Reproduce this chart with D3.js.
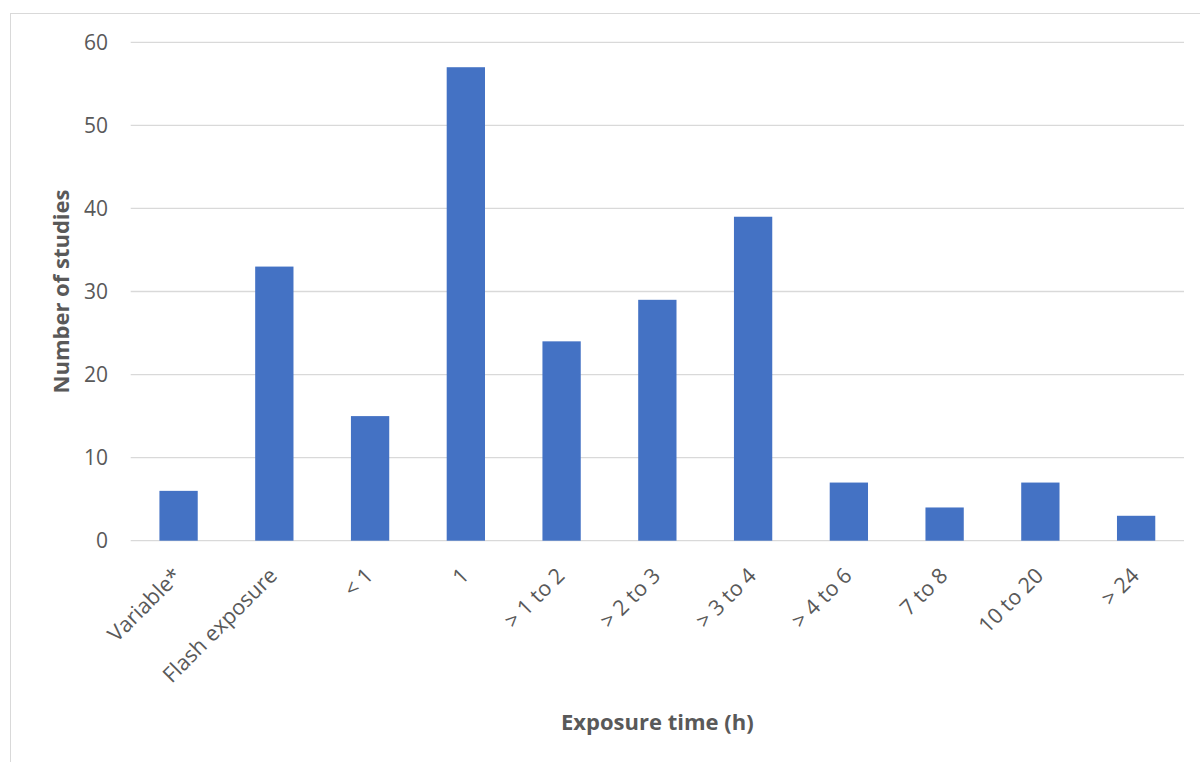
<!DOCTYPE html>
<html>
<head>
<meta charset="utf-8">
<script src="https://cdn.jsdelivr.net/npm/d3@7"></script>
<style>
  html, body { margin: 0; padding: 0; background: #fff; }
  svg { display: block; font-family: "Open Sans", sans-serif; }
</style>
</head>
<body>
<svg id="chart" width="1200" height="762"></svg>
<script>
// Studies grouped by exposure time
const categories = ["Variable*", "Flash exposure", "< 1", "1", "> 1 to 2", "> 2 to 3",
                    "> 3 to 4", "> 4 to 6", "7 to 8", "10 to 20", "> 24"];
const studies = [6, 33, 15, 57, 24, 29, 39, 7, 4, 7, 3];
const yTicks = [0, 10, 20, 30, 40, 50, 60];

const svg = d3.select("#chart");
const W = 1200, H = 762;
const plot = { left: 130.7, right: 1184, top: 42.3, bottom: 540.7 };

// outer chart frame
svg.append("rect")
  .attr("x", 10.5).attr("y", 13.5)
  .attr("width", W - 10).attr("height", H)
  .attr("fill", "#fff").attr("stroke", "#d9d9d9").attr("stroke-width", 1);

const x = d3.scaleBand().domain(categories).range([plot.left, plot.right]).paddingInner(0.6).paddingOuter(0.3);
const y = d3.scaleLinear().domain([0, 60]).range([plot.bottom, plot.top]);

// horizontal gridlines
svg.append("g").selectAll("line").data(yTicks).join("line")
  .attr("x1", plot.left).attr("x2", plot.right)
  .attr("y1", d => y(d)).attr("y2", d => y(d))
  .attr("stroke", "#d9d9d9").attr("stroke-width", 1.3);

// y tick labels
svg.append("g").selectAll("text").data(yTicks).join("text")
  .attr("x", 108).attr("y", d => y(d))
  .attr("dy", "0.35em").attr("text-anchor", "end")
  .attr("font-size", 21).attr("fill", "#595959")
  .text(d => d);

// bars
svg.append("g").selectAll("rect").data(categories).join("rect")
  .attr("x", d => x(d))
  .attr("width", x.bandwidth())
  .attr("y", (d, i) => y(studies[i]))
  .attr("height", (d, i) => y(0) - y(studies[i]))
  .attr("fill", "#4472c4");

// rotated category labels
svg.append("g").selectAll("text").data(categories).join("text")
  .attr("transform", d => `translate(${x(d) + x.bandwidth() / 2 - 1},${plot.bottom + 31}) rotate(-45)`)
  .attr("text-anchor", "end")
  .attr("dy", "0.35em")
  .attr("font-size", 21.5).attr("fill", "#595959")
  .text(d => d);

// axis titles
svg.append("text")
  .attr("x", (plot.left + plot.right) / 2).attr("y", 730)
  .attr("text-anchor", "middle")
  .attr("font-size", 22).attr("font-weight", "bold").attr("fill", "#595959")
  .text("Exposure time (h)");

svg.append("text")
  .attr("transform", `translate(69,${(plot.top + plot.bottom) / 2}) rotate(-90)`)
  .attr("text-anchor", "middle")
  .attr("font-size", 22).attr("font-weight", "bold").attr("fill", "#595959")
  .text("Number of studies");
</script>
</body>
</html>
